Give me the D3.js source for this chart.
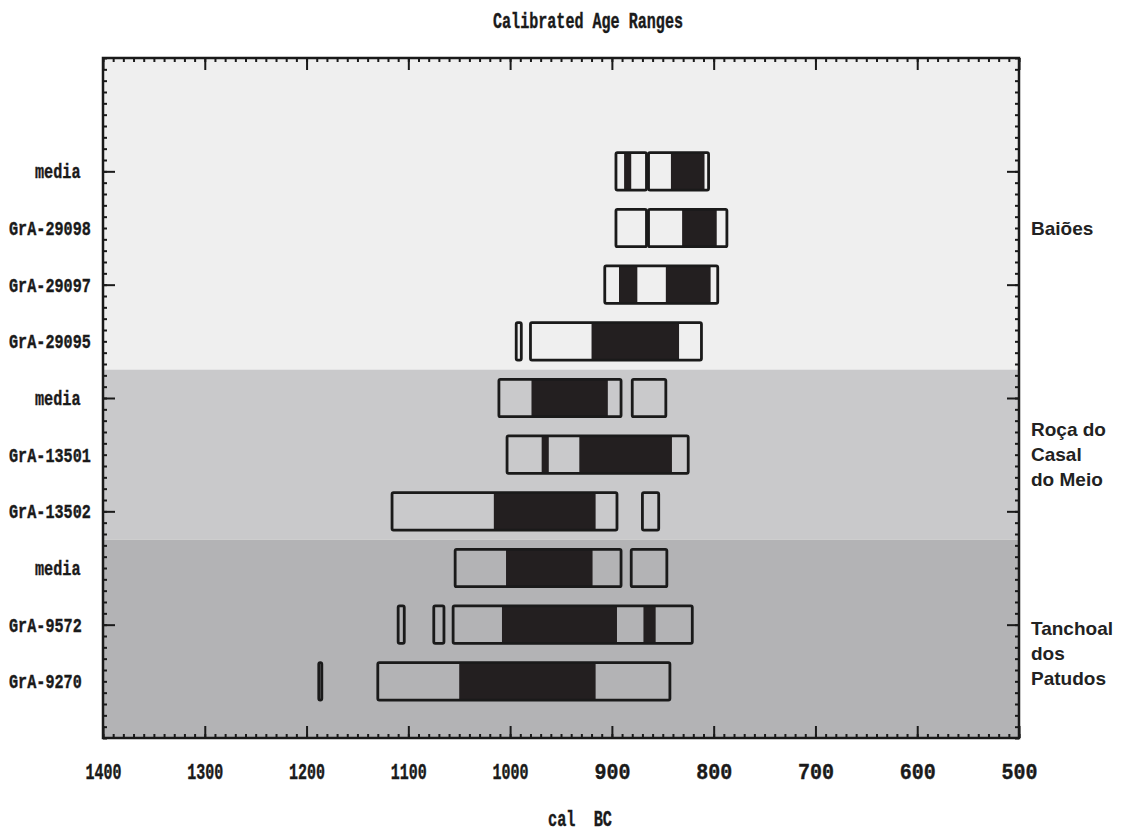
<!DOCTYPE html>
<html lang="en">
    <head>
        <meta charset="utf-8">
        <title>Calibrated Age Ranges</title>
        <script type="text/javascript" src="https://d3js.org/d3.v7.min.js"></script>
        <style type="text/css">
            body { margin: 0; background: #ffffff; }
            .mono { font-family: "Liberation Mono", monospace; font-weight: bold; fill: #1a1a1a; stroke: #1a1a1a; stroke-width: 0.4px; }
            .site { font-family: "Liberation Sans", Arial, sans-serif; font-weight: bold; font-size: 19px; fill: #222; }
        </style>
    </head>
    <body>
        <script type="text/javascript">

        // Datos (cal BC)
        var rowLabels = ["media", "GrA-29098", "GrA-29097", "GrA-29095",
                         "media", "GrA-13501", "GrA-13502",
                         "media", "GrA-9572", "GrA-9270"];

        // Rangos 2 sigma (cajas)
        var range95 = [
            [[896, 866], [864, 805]],
            [[896, 866], [864, 787]],
            [[907, 796]],
            [[994, 989], [980, 812]],
            [[1011, 891], [880, 847]],
            [[1003, 825]],
            [[1116, 895], [870, 854]],
            [[1054, 891], [881, 846]],
            [[1110, 1104], [1075, 1065], [1056, 821]],
            [[1188, 1185], [1130, 843]]
        ];

        // Rangos 1 sigma (relleno negro)
        var range68 = [
            [[888, 881], [842, 809]],
            [[831, 797]],
            [[893, 875], [847, 803]],
            [[920, 834]],
            [[979, 904]],
            [[969, 962], [932, 841]],
            [[1016, 916]],
            [[1004, 919]],
            [[1008, 895], [869, 857]],
            [[1050, 916]]
        ];

        var siteNames = [["Baiões"], ["Roça do", "Casal", "do Meio"], ["Tanchoal", "dos", "Patudos"]];
        var siteFirstRow = [0, 4, 7];
        var siteLabelRow = [1, 5, 8.5];
        var siteColors = ["#efefef", "#c9c9cb", "#b3b3b5"];

        var xTicks = [1400, 1300, 1200, 1100, 1000, 900, 800, 700, 600, 500];

        // Tamaño
        var w = 1123;
        var h = 834;
        var x0 = 103, x1 = 1019, y0 = 58, y1 = 738;

        var x = d3.scaleLinear().domain([1400, 500]).range([x0, x1]);
        var y = d3.scaleLinear().domain([-2, 10]).range([y0, y1]);
        var half = 0.33;

        var svg = d3.select("body")
                    .append("svg")
                    .attr("width", w)
                    .attr("height", h);

        // Bandas de fondo
        var bandEdges = siteFirstRow.map(function(r, i){ return i === 0 ? -2 : r - 0.5; });
        svg.selectAll("rect.band")
            .data(siteColors)
            .enter()
            .append("rect")
            .attr("class", "band")
            .attr("x", x0)
            .attr("width", x1 - x0)
            .attr("y", function(d, i){ return y(bandEdges[i]); })
            .attr("height", function(d, i){
                var end = i < bandEdges.length - 1 ? bandEdges[i + 1] : 10;
                return y(end) - y(bandEdges[i]);
            })
            .attr("fill", function(d){ return d; });

        // Barras
        var rows = svg.selectAll("g.row")
            .data(rowLabels)
            .enter()
            .append("g")
            .attr("class", "row");

        rows.selectAll("rect.s1")
            .data(function(d, i){ return range68[i].map(function(r){ return {r: r, i: i}; }); })
            .enter()
            .append("rect")
            .attr("x", function(d){ return x(d.r[0]); })
            .attr("width", function(d){ return x(d.r[1]) - x(d.r[0]); })
            .attr("y", function(d){ return y(d.i - half); })
            .attr("height", function(d){ return y(d.i + half) - y(d.i - half); })
            .attr("fill", "#231f20");

        rows.selectAll("rect.s2")
            .data(function(d, i){ return range95[i].map(function(r){ return {r: r, i: i}; }); })
            .enter()
            .append("rect")
            .attr("x", function(d){ return x(d.r[0]); })
            .attr("width", function(d){ return x(d.r[1]) - x(d.r[0]); })
            .attr("y", function(d){ return y(d.i - half); })
            .attr("height", function(d){ return y(d.i + half) - y(d.i - half); })
            .attr("fill", "none")
            .attr("stroke", "#1a1a1a")
            .attr("stroke-width", 2.8)
            .attr("rx", 1.5);

        // Ejes (ticks hacia dentro)
        var minorX = d3.range(1400, 499, -10);
        var minorY = d3.range(-2, 10.01, 0.2);
        var majorY = [0, 2, 4, 6, 8];

        function styleAxis(g) {
            g.select(".domain").remove();
            g.selectAll("line").attr("stroke", "#1a1a1a").attr("stroke-width", 2);
        }

        svg.append("g").attr("transform", "translate(0," + y1 + ")")
            .call(d3.axisBottom(x).tickValues(minorX).tickSize(-4).tickFormat("")).call(styleAxis);
        svg.append("g").attr("transform", "translate(0," + y0 + ")")
            .call(d3.axisTop(x).tickValues(minorX).tickSize(-4).tickFormat("")).call(styleAxis);
        svg.append("g").attr("transform", "translate(" + x0 + ",0)")
            .call(d3.axisLeft(y).tickValues(minorY).tickSize(-4).tickFormat("")).call(styleAxis);
        svg.append("g").attr("transform", "translate(" + x1 + ",0)")
            .call(d3.axisRight(y).tickValues(minorY).tickSize(-4).tickFormat("")).call(styleAxis);

        var xBottom = svg.append("g").attr("transform", "translate(0," + y1 + ")")
            .call(d3.axisBottom(x).tickValues(xTicks).tickSize(-12).tickPadding(25).tickFormat(d3.format("d")))
            .call(styleAxis);
        xBottom.selectAll("text")
            .attr("class", "mono")
            .attr("font-size", 22)
            .attr("font-family", null)
            .attr("fill", null)
            .attr("textLength", 36)
            .attr("lengthAdjust", "spacingAndGlyphs");

        svg.append("g").attr("transform", "translate(0," + y0 + ")")
            .call(d3.axisTop(x).tickValues(xTicks).tickSize(-12).tickFormat("")).call(styleAxis);
        svg.append("g").attr("transform", "translate(" + x0 + ",0)")
            .call(d3.axisLeft(y).tickValues(majorY).tickSize(-12).tickFormat("")).call(styleAxis);
        svg.append("g").attr("transform", "translate(" + x1 + ",0)")
            .call(d3.axisRight(y).tickValues(majorY).tickSize(-12).tickFormat("")).call(styleAxis);

        // Marco
        svg.append("rect")
            .attr("x", x0).attr("y", y0)
            .attr("width", x1 - x0).attr("height", y1 - y0)
            .attr("fill", "none")
            .attr("stroke", "#1a1a1a")
            .attr("stroke-width", 2.5);

        // Etiquetas de filas
        svg.selectAll("text.rowlab")
            .data(rowLabels)
            .enter()
            .append("text")
            .attr("class", "mono rowlab")
            .attr("font-size", 21)
            .attr("x", function(d){ return d === "media" ? 35 : 9; })
            .attr("y", function(d, i){ return y(i); })
            .attr("dy", "0.33em")
            .attr("textLength", function(d){ return d.length * 9.1; })
            .attr("lengthAdjust", "spacingAndGlyphs")
            .text(function(d){ return d; });

        // Nombres de sitios
        siteNames.forEach(function(lines, s){
            var cy = y(siteLabelRow[s]);
            var top = cy - (lines.length - 1) * 25 / 2;
            svg.append("text")
                .attr("class", "site")
                .attr("x", 1031)
                .selectAll("tspan")
                .data(lines)
                .enter()
                .append("tspan")
                .attr("x", 1031)
                .attr("y", function(d, i){ return top + i * 25; })
                .attr("dy", "0.35em")
                .text(function(d){ return d; });
        });

        // Titulo y eje
        svg.append("text")
            .attr("class", "mono")
            .attr("font-size", 22)
            .attr("x", 588).attr("y", 28)
            .attr("text-anchor", "middle")
            .attr("textLength", 190)
            .attr("lengthAdjust", "spacingAndGlyphs")
            .text("Calibrated Age Ranges");

        svg.append("text")
            .attr("class", "mono")
            .attr("font-size", 22)
            .attr("x", 580).attr("y", 826)
            .attr("text-anchor", "middle")
            .attr("textLength", 64)
            .attr("lengthAdjust", "spacingAndGlyphs")
            .style("white-space", "pre")
            .text("cal  BC");
        </script>
    </body>
</html>
